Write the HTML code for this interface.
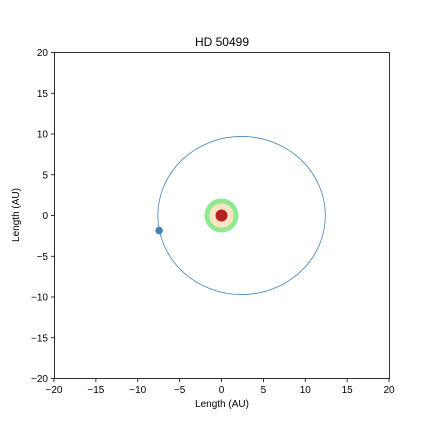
<!DOCTYPE html>
<html><head><meta charset="utf-8"><style>
body{margin:0;background:#fff;}
svg text{font-family:"Liberation Sans",sans-serif;font-size:10px;fill:#000;}
</style></head><body>
<svg width="432" height="432" viewBox="0 0 432 432">
<rect width="432" height="432" fill="#fff"/>
<g id="plot"></g>
<rect x="54.5" y="52.5" width="335" height="326" fill="none" stroke="#000" stroke-width="0.8"/>
<text x="222" y="46" text-anchor="middle" style="font-size:12px">HD 50499</text>
<text x="222" y="407" text-anchor="middle">Length (AU)</text>
<text x="19" y="215" text-anchor="middle" transform="rotate(-90 19 215)">Length (AU)</text>
</svg>
<script>
const xTicks=[-20,-15,-10,-5,0,5,10,15,20];
const yTicks=[-20,-15,-10,-5,0,5,10,15,20];
const orbitCenter=[2.4,0];
const orbitAxes=[10.0,9.7];
const planet=[-7.45,-1.85];
const hzOuter=[2.05];
const hzInner=[1.45];
const starRadius=[0.72];
const NS="http://www.w3.org/2000/svg";
const sx=v=>221.5+v*8.375, sy=v=>215.5-v*8.15;
const fmt=v=>v<0?'\u2212'+(-v):String(v);
const svg=document.querySelector('svg'), g=document.getElementById('plot');
function mk(t,a,p){const e=document.createElementNS(NS,t);for(const k in a)e.setAttribute(k,a[k]);(p||g).appendChild(e);return e;}
xTicks.forEach(v=>{const x=sx(v);
 const l=mk('line',{x1:x,x2:x,y1:378.5,y2:382,stroke:'#000','stroke-width':0.8});
 
 const t=mk('text',{x:x,y:393,'text-anchor':'middle'},svg);t.textContent=fmt(v);
 });
yTicks.forEach(v=>{const y=sy(v);
 const l=mk('line',{x1:51,x2:54.5,y1:y,y2:y,stroke:'#000','stroke-width':0.8});
 
 const t=mk('text',{x:48,y:y+3.5,'text-anchor':'end'},svg);t.textContent=fmt(v);
 });
const cx=sx(0),cy=sy(0);
const hz=mk('circle',{cx:cx,cy:cy,r:(hzOuter[0]+hzInner[0])/2*8.3,fill:'none',stroke:'#90e890','stroke-width':(hzOuter[0]-hzInner[0])*8.3});

const inn=mk('circle',{cx:cx,cy:cy,r:hzInner[0]*8.3,fill:'#fde3c3'});

const st=mk('circle',{cx:cx,cy:cy,r:starRadius[0]*8.3,fill:'#b22222'});

const orb=mk('ellipse',{cx:sx(orbitCenter[0]),cy:sy(orbitCenter[1]),rx:orbitAxes[0]*8.375,ry:orbitAxes[1]*8.15,fill:'none',stroke:'#4682b4','stroke-width':0.8});

const pl=mk('circle',{cx:sx(planet[0]),cy:sy(planet[1]),r:3.8,fill:'#4682b4'});

</script>
</body></html>
